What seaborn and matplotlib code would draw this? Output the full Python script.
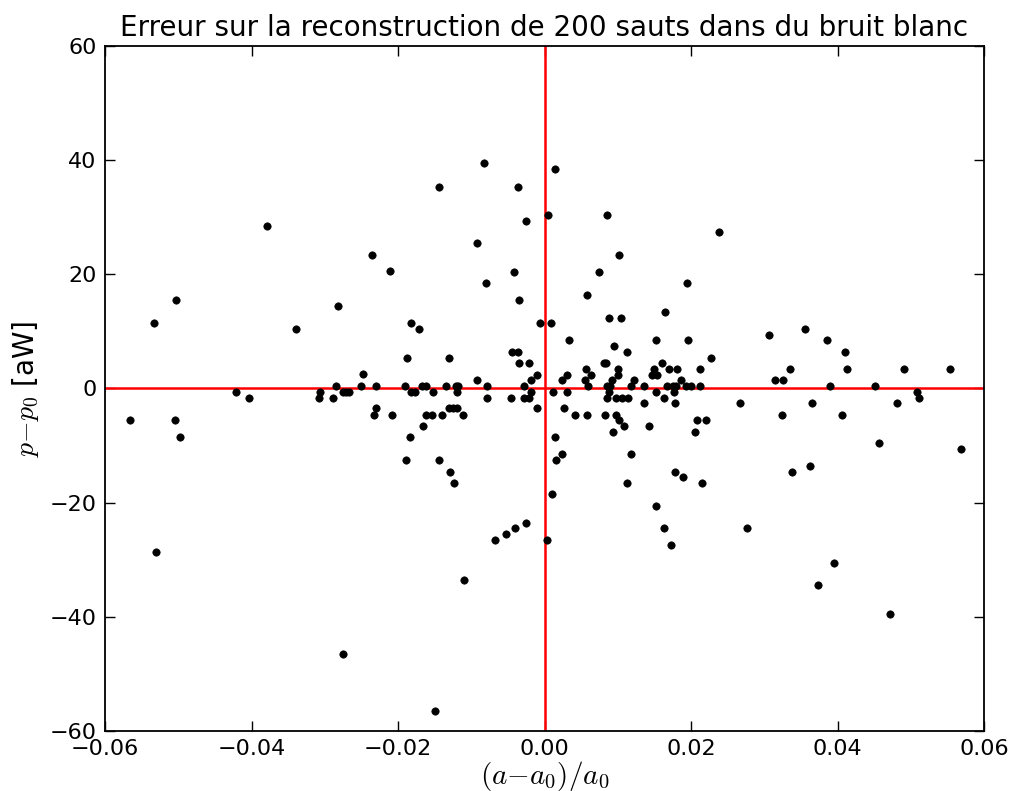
import pandas as pd
import matplotlib
matplotlib.use('Agg')
import matplotlib.pyplot as plt
import seaborn as sns

# Relative amplitude error (a-a0)/a0
rel_amp_err = [
    -0.0379, -0.0235, -0.0211,
    -0.00825, -0.01443, -0.00357, 0.00143, -0.00252, 0.00052, 0.00852, -0.00925, 0.0101, -0.0042, 0.00748,
    0.02384,
    -0.0503, -0.0533, -0.02826, -0.0339, -0.0248, -0.02853, -0.02502, -0.0230, -0.0421, -0.0403,
    -0.0307, -0.0308, -0.02884, -0.02757, -0.02711, -0.0267, -0.0230, -0.02325, -0.02084, -0.0566,
    -0.0504, -0.0497,
    -0.0530, -0.02748, -0.0149,
    -0.00248, -0.00398, -0.0052, -0.00675, 0.00034, -0.01098, 0.01525, 0.01634, 0.01721,
    0.02762, 0.03957, 0.03739, 0.04721,
    0.01943, 0.01961, 0.02266, 0.02125, 0.01925, 0.01998, 0.02117, 0.03071, 0.03553, 0.03862,
    0.04102, 0.04135, 0.03348, 0.03153, 0.03252, 0.03903, 0.04507, 0.04902, 0.05534, 0.05089,
    0.05116, 0.0267, 0.03648, 0.04807, 0.03239, 0.04061, 0.02075, 0.02202, 0.02057, 0.04566,
    0.0568, 0.03384, 0.0362, 0.01884, 0.02152,
    -0.00798, 0.0058, -0.00344, 0.01643, -0.0182, -0.01711, -0.00061, 0.00093, 0.00875, 0.01039,
    0.00339, 0.01525, 0.00952, 0.01125, -0.00443, -0.00366, -0.01879, -0.01302, -0.00344, -0.00216,
    0.00816, 0.00843, 0.01607, 0.00562, 0.00998, 0.01498, 0.01698, 0.01811, -0.00106, 0.00303,
    0.00638, 0.01007, 0.0147, 0.0153, -0.00916, -0.00188, 0.00239, 0.00548, 0.00916, 0.01225,
    0.01857, -0.01902, -0.01675, -0.01616, -0.01347, -0.01207, -0.01175, -0.00788, -0.00275, 0.00597,
    0.00852, 0.00893, 0.01175, 0.0136, 0.01675, 0.01757, 0.01793, -0.0182, -0.01775, -0.01525,
    -0.01189, -0.00184, 0.00116, 0.00303, 0.00875, 0.01525, 0.0177, -0.00788, -0.00461, -0.00284,
    -0.00216, 0.00852, 0.00979, 0.01057, 0.01134, 0.0163, 0.01352, 0.0178, -0.00106, 0.00262,
    -0.01298, -0.01243, -0.01197, -0.01616, -0.0153, -0.01402, -0.01107, 0.00412, 0.00584, 0.00825,
    0.00975, 0.01011, 0.01088, 0.01429, -0.01661, 0.00939, -0.01834, 0.00139, 0.00239, 0.01184,
    -0.01889, -0.01443, 0.00157, -0.01285, -0.01238, 0.0178, 0.01121, 0.00107,
]

# Power error p-p0 in aW
power_err = [
    28.4, 23.4, 20.5,
    39.4, 35.3, 35.3, 38.4, 29.3, 30.4, 30.4, 25.4, 23.4, 20.4, 20.4,
    27.4,
    15.4, 11.4, 14.4, 10.4, 2.5, 0.5, 0.5, 0.5, -0.55, -1.6,
    -0.55, -1.6, -1.6, -0.55, -0.55, -0.55, -3.5, -4.6, -4.6, -5.6,
    -5.6, -8.5,
    -28.6, -46.5, -56.5,
    -23.6, -24.5, -25.5, -26.6, -26.5, -33.5, -20.6, -24.5, -27.5,
    -24.5, -30.6, -34.5, -39.5,
    18.4, 8.4, 5.4, 3.4, 0.5, 0.5, 0.5, 9.4, 10.4, 8.4,
    6.4, 3.4, 3.4, 1.5, 1.5, 0.5, 0.5, 3.4, 3.4, -0.55,
    -1.6, -2.6, -2.6, -2.6, -4.6, -4.6, -5.6, -5.6, -7.6, -9.6,
    -10.6, -14.6, -13.6, -15.6, -16.6,
    18.4, 16.4, 15.4, 13.4, 11.4, 10.4, 11.4, 11.4, 12.4, 12.4,
    8.4, 8.4, 7.4, 6.4, 6.4, 6.4, 5.4, 5.4, 4.4, 4.4,
    4.4, 4.4, 4.4, 3.4, 3.4, 3.4, 3.4, 3.4, 2.4, 2.4,
    2.4, 2.4, 2.4, 2.4, 1.4, 1.4, 1.4, 1.4, 1.4, 1.4,
    1.4, 0.4, 0.4, 0.4, 0.4, 0.4, 0.4, 0.4, 0.4, 0.4,
    0.4, 0.4, 0.4, 0.4, 0.4, 0.4, 0.4, -0.55, -0.55, -0.55,
    -0.55, -0.55, -0.55, -0.55, -0.55, -0.55, -0.55, -1.6, -1.6, -1.6,
    -1.6, -1.6, -1.6, -1.6, -1.6, -1.6, -2.6, -2.6, -3.5, -3.5,
    -3.5, -3.5, -3.5, -4.6, -4.6, -4.6, -4.6, -4.6, -4.6, -4.6,
    -4.6, -5.6, -6.6, -6.6, -6.6, -7.6, -8.5, -8.5, -11.5, -11.5,
    -12.6, -12.6, -12.6, -14.6, -16.6, -14.6, -16.6, -18.5,
]

df = pd.DataFrame({'rel': rel_amp_err, 'dp': power_err})

sns.set_style('ticks')
plt.rcParams['font.family'] = ['DejaVu Sans']
plt.rcParams['mathtext.fontset'] = 'cm'
plt.rcParams['text.color'] = 'black'
plt.rcParams['axes.labelcolor'] = 'black'

fig = plt.figure(figsize=(10.13, 7.91), dpi=100)
ax = fig.add_axes([0.1037, 0.076, 0.8677, 0.866])

sns.scatterplot(data=df, x='rel', y='dp', color='black', edgecolor='black',
                s=28, linewidth=0.5, ax=ax, zorder=3)

# Reference lines through zero
ax.axhline(0, color='red', linewidth=1.8, zorder=2)
ax.axvline(0, color='red', linewidth=1.8, zorder=2)

ax.set_xlim(-0.06, 0.06)
ax.set_ylim(-60, 60)
ax.set_xticks([-0.06, -0.04, -0.02, 0.0, 0.02, 0.04, 0.06])
ax.set_yticks([-60, -40, -20, 0, 20, 40, 60])
ax.set_xticklabels(['\u22120.06', '\u22120.04', '\u22120.02', '0.00', '0.02', '0.04', '0.06'])
ax.set_yticklabels(['\u221260', '\u221240', '\u221220', '0', '20', '40', '60'])
ax.tick_params(direction='in', top=True, right=True, length=7, width=1,
               labelsize=16, pad=6, colors='black')
for sp in ax.spines.values():
    sp.set_linewidth(1.3)
    sp.set_color('black')

ax.set_title('Erreur sur la reconstruction de 200 sauts dans du bruit blanc',
             fontsize=20, pad=7, color='black')
ax.set_xlabel('$(a{-}a_0)/a_0$', fontsize=21, labelpad=0)
ax.set_ylabel('$p{-}p_0$ [aW]', fontsize=20, labelpad=6)

fig.savefig('out.png', dpi=100)
